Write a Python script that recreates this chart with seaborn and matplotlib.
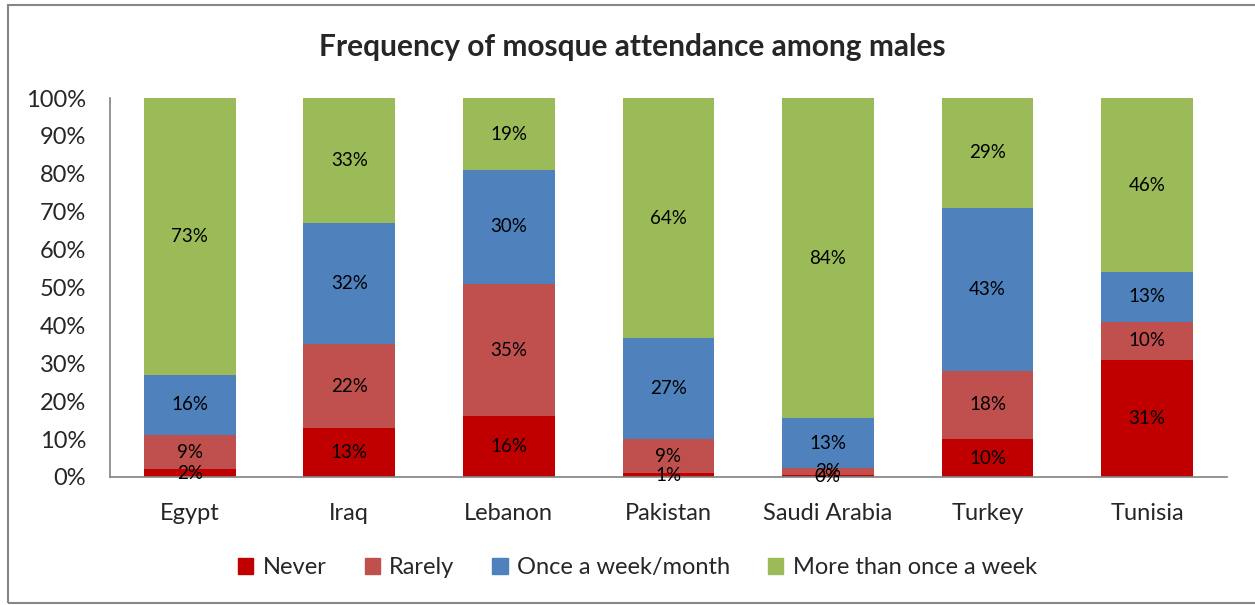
import matplotlib.pyplot as plt
import matplotlib.patches as mpatches
import numpy as np
import pandas as pd
import seaborn as sns

countries = ["Egypt", "Iraq", "Lebanon", "Pakistan", "Saudi Arabia", "Turkey", "Tunisia"]
never = [2, 13, 16, 1, 0.4, 10, 31]
rarely = [9, 22, 35, 9, 2, 18, 10]
weekly_monthly = [16, 32, 30, 27, 13, 43, 13]
more_than_weekly = [73, 33, 19, 64, 84, 29, 46]

series_names = ["Never", "Rarely", "Once a week/month", "More than once a week"]
colors = ["#C00000", "#C0504D", "#4F81BD", "#9BBB59"]

sns.set_theme(style="white")
plt.rcParams["font.family"] = ["Lato", "DejaVu Sans"]

raw = np.array([never, rarely, weekly_monthly, more_than_weekly], dtype=float)
shares = raw / raw.sum(axis=0) * 100

fig = plt.figure(figsize=(12.55, 6.05), dpi=100)
ax = fig.add_axes([0.0876, 0.2116, 0.89, 0.6264])

bottom = np.zeros(len(countries))
for i, name in enumerate(series_names):
    df = pd.DataFrame({"country": countries, "share": shares[i]})
    sns.barplot(data=df, x="country", y="share", color=colors[i], bottom=bottom,
                width=0.575, ax=ax, saturation=1, linewidth=0)
    bottom = bottom + shares[i]

for cont, vals in zip(ax.containers, raw):
    ax.bar_label(cont, labels=[f"{v:.0f}%" for v in vals], label_type="center",
                 fontsize=13.5, color="black")

ax.set_xlim(-0.5, 6.5)
ax.set_ylim(0, 100)
ax.set_yticks(np.arange(0, 101, 10))
ax.set_yticklabels([f"{t}%" for t in range(0, 101, 10)], fontsize=17)
ax.tick_params(axis="x", labelsize=17, pad=19, length=0)
ax.tick_params(axis="y", pad=17, length=0)
ax.set_xlabel("")
ax.set_ylabel("")
for s in ["top", "right"]:
    ax.spines[s].set_visible(False)
ax.spines["left"].set_color("#868686")
ax.spines["bottom"].set_color("#868686")

fig.text(0.504, 0.922, "Frequency of mosque attendance among males", ha="center",
         va="center", fontsize=21.5, fontweight="bold")

handles = [mpatches.Patch(color=c, label=n) for c, n in zip(colors, series_names)]
fig.legend(handles=handles, loc="center", bbox_to_anchor=(0.508, 0.062), ncol=4,
           frameon=False, fontsize=17, handlelength=0.65, handleheight=0.65,
           handletextpad=0.4, columnspacing=1.6)

fig.patches.append(mpatches.Rectangle((0.0065, 0.003), 1.2, 0.988, transform=fig.transFigure,
                                      fill=False, edgecolor="#868686", linewidth=1.5))

fig.savefig("out.png", dpi=100)
